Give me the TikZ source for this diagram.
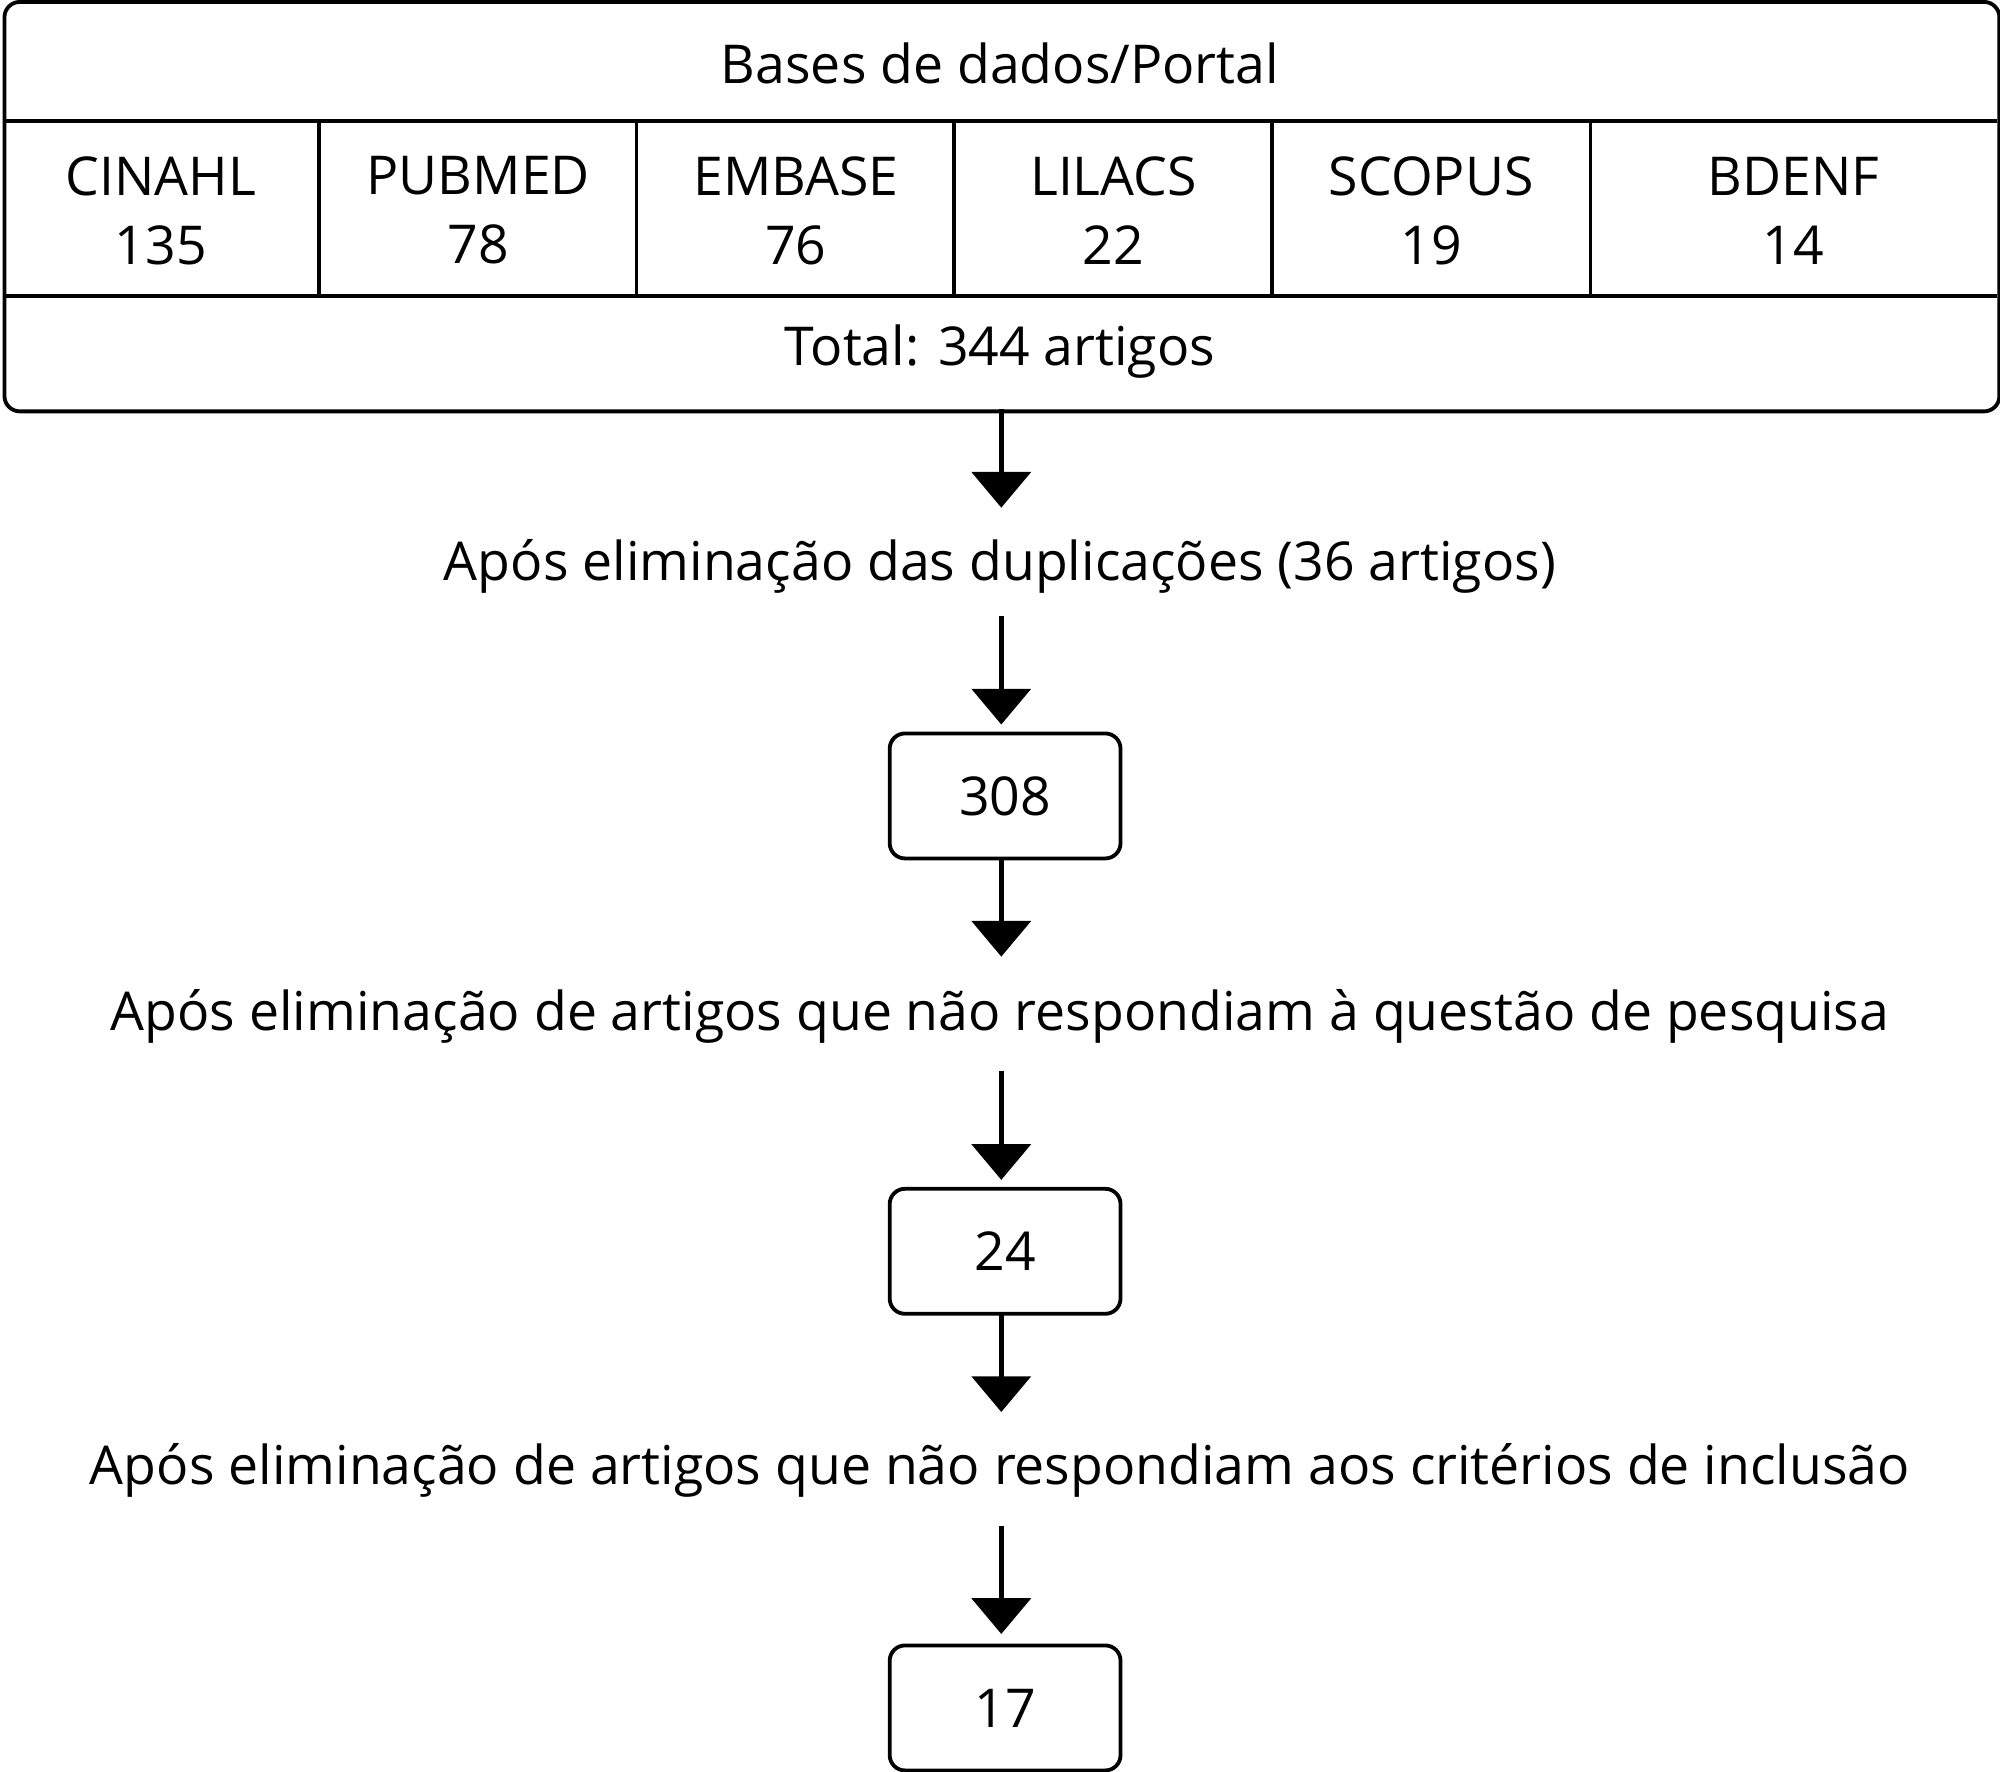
\documentclass[tikz,border=0pt]{standalone}
\usepackage{fontspec}
\setmainfont{Open Sans}
\usetikzlibrary{arrows.meta}
\begin{document}
\begin{tikzpicture}[x=0.5pt,y=-0.5pt,
  frame/.style={line width=1.5pt},
  lbl/.style={font=\fontsize{21}{27}\selectfont, align=center, inner sep=0pt},
  numbox/.style={draw, line width=1.5pt, rounded corners=6pt, minimum width=90.5pt, minimum height=49pt, font=\fontsize{21}{27}\selectfont, inner sep=0pt},
  flow/.style={line width=2pt, -{Triangle[width=23pt,length=14pt]}}]
\useasboundingbox (0,0) rectangle (1568,1389);
% table
\node[draw, frame, rounded corners=6pt, minimum width=782pt, minimum height=160.5pt, inner sep=0pt, anchor=north west] (table) at (2,0) {};
\draw[frame] (2,95) -- (1566,95) (2,232) -- (1566,232);
\foreach \x in {250,499,748,997,1247} \draw[frame] (\x,95) -- (\x,232);
\node[lbl] (title) at (784,50) {Bases de dados/Portal};
\node[lbl] (c1) at (126,165) {CINAHL\\135};
\node[lbl] (c2) at (375,165) {PUBMED\\78};
\node[lbl] (c3) at (624,165) {EMBASE\\76};
\node[lbl] (c4) at (873,165) {LILACS\\22};
\node[lbl] (c5) at (1122,165) {SCOPUS\\19};
\node[lbl] (c6) at (1406,165) {BDENF\\14};
\node[lbl] (total) at (784,276) {Total: 344 artigos};
% flow
\node[lbl] (t1) at (784,444) {Após eliminação das duplicações (36 artigos)};
\node[numbox] (b1) at (788,624) {308};
\node[lbl] (t2) at (784,797) {Após eliminação de artigos que não respondiam à questão de pesquisa};
\node[numbox] (b2) at (788,981) {24};
\node[lbl] (t3) at (784,1153) {Após eliminação de artigos que não respondiam aos critérios de inclusão};
\node[numbox] (b3) at (788,1339) {17};
\coordinate (a1s) at (785,321); \coordinate (a1e) at (785,398);
\coordinate (a2s) at (785,483); \coordinate (a2e) at (785,568);
\coordinate (a3s) at (785,673); \coordinate (a3e) at (785,750);
\coordinate (a4s) at (785,840); \coordinate (a4e) at (785,925);
\coordinate (a5s) at (785,1030); \coordinate (a5e) at (785,1107);
\coordinate (a6s) at (785,1196); \coordinate (a6e) at (785,1281);
\foreach \i in {1,...,6} \draw[flow] (a\i s) -- (a\i e);
\end{tikzpicture}
\end{document}
